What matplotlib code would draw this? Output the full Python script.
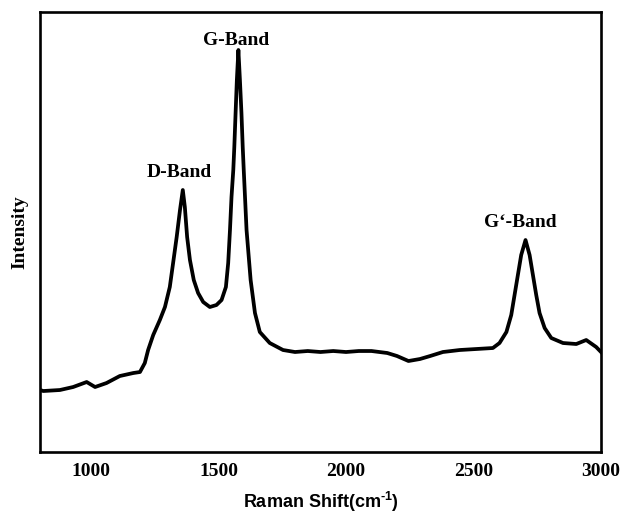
import matplotlib
matplotlib.use('Agg')
import matplotlib.pyplot as plt

# Raman spectrum (arbitrary intensity units)
shift = [800, 813, 878, 930, 983, 1016, 1061, 1113, 1166, 1192, 1211, 1224,
         1244, 1270, 1290, 1309, 1322, 1336, 1349, 1360, 1368, 1377, 1388,
         1403, 1420, 1440, 1466, 1492, 1512, 1529, 1538, 1545, 1551, 1558,
         1562, 1567, 1572, 1578, 1584, 1590, 1595, 1599, 1610, 1626, 1643,
         1662, 1701, 1753, 1800, 1850, 1900, 1950, 2000, 2050, 2100, 2162,
         2200, 2245, 2290, 2330, 2380, 2446, 2511, 2576, 2602, 2629, 2648,
         2661, 2674, 2687, 2704, 2720, 2733, 2746, 2759, 2779, 2805, 2851,
         2903, 2942, 2981, 3000]
intensity = [62, 61, 62, 65, 70, 65, 69, 76, 79, 80, 89, 102,
             117, 132, 145, 165, 189, 215, 242, 262, 245, 215, 192,
             172, 159, 150, 145, 147, 152, 165, 189, 222, 255, 282,
             305, 339, 372, 402, 372, 339, 305, 282, 222, 172, 139,
             120, 109, 102, 100, 101, 100, 101, 100, 101, 101, 99,
             96, 91, 93, 96, 100, 102, 103, 104, 109, 120, 137,
             157, 177, 197, 212, 197, 177, 157, 139, 124, 114, 109,
             108, 112, 105, 100]

# band annotations placed above the peaks
band_labels = ['G-Band', 'D-Band', 'G\u2018-Band']
band_x = [1569, 1345, 2682]
band_y = [412, 280, 230]

xticks = [1000, 1500, 2000, 2500, 3000]

plt.rcParams['mathtext.fontset'] = 'custom'
plt.rcParams['mathtext.bf'] = 'Liberation Sans:bold'
plt.rcParams['mathtext.rm'] = 'Liberation Sans:bold'

fig = plt.figure(figsize=(6.23, 5.15), dpi=100)
ax = fig.add_axes([0.0642, 0.1223, 0.9005, 0.8544])

ax.plot(shift, intensity, color='black', lw=2.7, solid_joinstyle='round')

ax.set_xlim(800, 3000)
ax.set_ylim(0, 440)
ax.set_xticks(xticks)
ax.set_xticklabels([str(t) for t in xticks], fontfamily='Liberation Serif',
                   fontweight='bold', fontsize=14)
ax.set_yticks([])
ax.tick_params(axis='x', length=0, pad=8)

for s in ax.spines.values():
    s.set_linewidth(1.9)
    s.set_color('black')

for lab, bx, by in zip(band_labels, band_x, band_y):
    ax.text(bx, by, lab, ha='center', va='center', fontfamily='Liberation Serif',
            fontweight='bold', fontsize=14)

ax.set_xlabel(r'Raman Shift(cm$^{\text{-1}}$)', fontfamily='Liberation Sans',
              fontweight='bold', fontsize=13, labelpad=7)
ax.set_ylabel('Intensity', fontfamily='Liberation Serif', fontweight='bold',
              fontsize=14, labelpad=8)

fig.savefig('out.png', dpi=100)
